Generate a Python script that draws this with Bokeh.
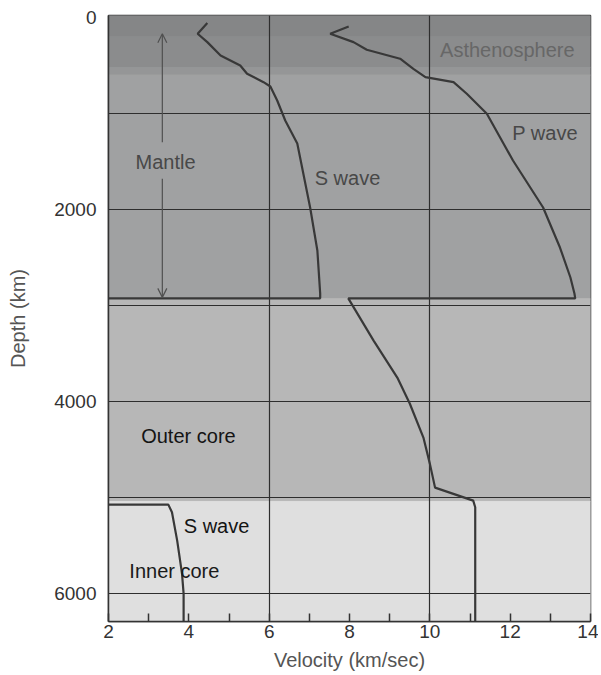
from bokeh.plotting import figure
from bokeh.models import Range1d, FixedTicker, ColumnDataSource, Arrow, OpenHead
from bokeh.core.properties import value
from bokeh.embed import file_html
from bokeh.resources import INLINE

FONT = "Liberation Sans"

# ---- data -------------------------------------------------------------
x_min, x_max = 2, 14
depth_top, depth_bottom = -20, 6290

x_major = [2, 4, 6, 8, 10, 12, 14]
x_minor = [3, 5, 7, 9, 11, 13]
x_grid = [6, 10]
y_labels = [0, 2000, 4000, 6000]
y_grid = [1000, 2000, 3000, 4000, 5000, 6000]

# background layers (depth ranges, km) and their shades
band_top = [-20, 200, 520, 600, 2930, 5040]
band_bottom = [200, 520, 600, 2930, 5040, 6290]
band_color = ["#858687", "#8b8c8d", "#959697", "#a0a1a2", "#b7b7b7", "#dfdfdf"]

# P wave velocity (km/s) vs depth (km)
p_vel = [7.98, 7.52, 8.10, 8.43, 9.26, 9.59, 9.89, 10.59, 10.92, 11.42, 12.07, 12.82,
         13.24, 13.50, 13.60, 13.62, 7.97, 8.60, 9.19, 9.50, 9.84, 10.00, 10.13, 11.08,
         11.13, 11.13]
p_depth = [94, 170, 257, 337, 430, 535, 621, 674, 795, 1003, 1490, 1979,
           2396, 2708, 2875, 2925, 2925, 3365, 3750, 4020, 4375, 4646, 4896, 5031,
           5100, 6290]

# S wave in the mantle
s_vel = [4.46, 4.22, 4.46, 4.79, 5.28, 5.45, 5.86, 6.03, 6.20, 6.40, 6.70, 7.02,
         7.20, 7.27, 7.27, 2.0]
s_depth = [59, 170, 257, 396, 500, 587, 674, 719, 865, 1073, 1312, 1979,
           2427, 2875, 2925, 2925]

# S wave in the inner core
si_vel = [2.0, 3.49, 3.58, 3.71, 3.83, 3.87, 3.87]
si_depth = [5073, 5073, 5153, 5448, 5792, 6000, 6290]

# labels
lab_text = ["Asthenosphere", "P wave", "S wave", "Mantle", "Outer core", "S wave", "Inner core"]
lab_v = [11.93, 12.87, 7.95, 3.42, 3.99, 4.69, 3.64]
lab_d = [344, 1208, 1667, 1510, 4354, 5292, 5760]
lab_color = ["#676767", "#484848", "#484848", "#484848", "#141414", "#141414", "#1a1a1a"]

# mantle extent arrow
mantle_v = 3.34
mantle_top, mantle_gap_top, mantle_gap_bottom, mantle_bottom = 170, 1300, 1680, 2915

# ---- figure -----------------------------------------------------------
p = figure(width=598, height=673,
           x_range=Range1d(x_min, x_max), y_range=Range1d(depth_bottom, depth_top),
           output_backend="svg", toolbar_location=None,
           min_border_left=108, min_border_right=8, min_border_top=15, min_border_bottom=52)

p.background_fill_color = "white"
p.border_fill_color = "white"
p.outline_line_color = "#333333"
p.outline_line_width = 1.5

p.quad(left=x_min, right=x_max, top=band_top, bottom=band_bottom,
       fill_color=band_color, line_color=band_color, line_width=1, level="image")

# grid
p.xgrid.ticker = FixedTicker(ticks=x_grid)
p.ygrid.ticker = FixedTicker(ticks=y_grid)
for g in (p.xgrid, p.ygrid):
    g.grid_line_color = "#2e2e2e"
    g.grid_line_width = 1.2
    g.grid_line_alpha = 1.0

# curves
p.line(p_vel, p_depth, line_color="#383838", line_width=2.2)
p.line(s_vel, s_depth, line_color="#383838", line_width=2.2)
p.line(si_vel, si_depth, line_color="#383838", line_width=2.2)

# mantle arrow
for ys, ye in ((mantle_gap_top, mantle_top), (mantle_gap_bottom, mantle_bottom)):
    p.add_layout(Arrow(x_start=mantle_v, y_start=ys, x_end=mantle_v, y_end=ye,
                       line_color="#505050", line_width=1.2,
                       end=OpenHead(size=9, line_color="#505050", line_width=1.2)))

src = ColumnDataSource(dict(x=lab_v, y=lab_d, t=lab_text, c=lab_color))
p.text(x="x", y="y", text="t", text_color="c", source=src,
       text_font=value(FONT), text_font_size="20px",
       text_align="center", text_baseline="middle")

# axes
xa = p.xaxis[0]
xa.ticker = FixedTicker(ticks=x_major, minor_ticks=x_minor)
xa.axis_label = "Velocity (km/sec)"
xa.major_tick_in = 8
xa.major_tick_out = 0
xa.minor_tick_in = 8
xa.minor_tick_out = 0
xa.major_tick_line_color = "#333333"
xa.minor_tick_line_color = "#333333"
xa.major_tick_line_width = 1.5
xa.minor_tick_line_width = 1.5
xa.major_label_standoff = 3
xa.axis_label_standoff = 8

ya = p.yaxis[0]
ya.ticker = FixedTicker(ticks=y_labels)
ya.axis_label = "Depth (km)"
ya.major_tick_in = 0
ya.major_tick_out = 0
ya.minor_tick_in = 0
ya.minor_tick_out = 0
ya.major_label_standoff = 12
ya.axis_label_standoff = 22

for ax in (xa, ya):
    ax.axis_line_color = "#333333"
    ax.axis_line_width = 1.5
    ax.major_label_text_font = FONT
    ax.major_label_text_font_size = "19px"
    ax.major_label_text_color = "#333333"
    ax.axis_label_text_font = FONT
    ax.axis_label_text_font_size = "20px"
    ax.axis_label_text_font_style = "normal"
    ax.axis_label_text_color = "#555555"

open("out.html", "w").write(file_html(p, INLINE))
